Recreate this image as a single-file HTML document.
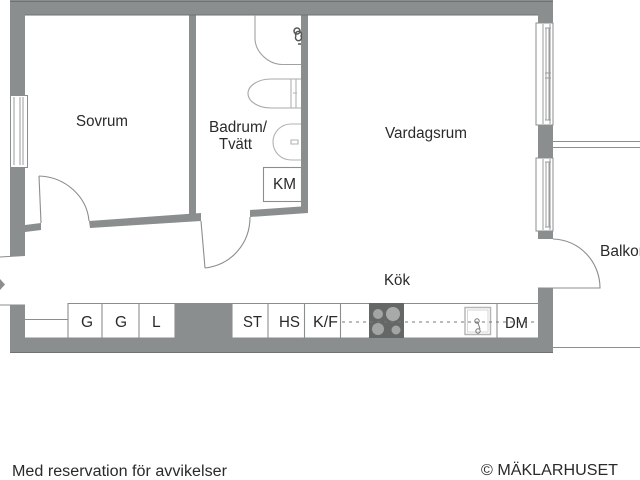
<!DOCTYPE html>
<html><head><meta charset="utf-8"><style>
html,body{margin:0;padding:0;background:#fff;width:640px;height:480px;overflow:hidden}
svg{display:block;filter:blur(.35px)}
text{font-family:"Liberation Sans",sans-serif;fill:#2a2a2a;font-size:15.5px}
</style></head><body>
<svg width="640" height="480" viewBox="0 0 640 480" xmlns="http://www.w3.org/2000/svg">
<rect width="640" height="480" fill="#fff"/>
<g fill="#8b8e8e">
<rect x="10" y="0" width="543" height="15"/>
<rect x="10" y="0" width="15" height="95"/>
<rect x="10" y="167" width="15" height="89"/>
<rect x="10" y="305" width="15" height="48"/>
<rect x="10" y="338" width="543" height="15"/>
<rect x="538" y="0" width="15" height="23"/>
<rect x="538" y="125" width="15" height="33"/>
<rect x="538" y="231" width="15" height="8"/>
<rect x="538" y="288" width="15" height="65"/>
<rect x="189" y="15" width="7" height="200"/>
<rect x="301" y="15" width="7" height="198"/>
<rect x="175" y="303" width="57" height="35"/>
<polygon points="25,225 41,223 41,230 25,232"/>
<polygon points="89,221 201,213 201,221 90,228"/>
<polygon points="250,210 308,206 308,213 250,217"/>
</g>
<path d="M10 1.500H553M25 15H538M10 352.500H553" stroke="#6f7272" stroke-width="1" fill="none"/>
<!-- windows -->
<g fill="#fff" stroke="#8b8e8e" stroke-width="1">
<rect x="10.500" y="95.500" width="17" height="72"/>
<rect x="536" y="23" width="17" height="102"/>
<rect x="536" y="158" width="17" height="73"/>
</g>
<g fill="none" stroke="#9a9c9c" stroke-width="1">
<path d="M14 97V165M20 97V165M23 97V165"/>
<path d="M543 24V124M546 28V120M549 28V120M550 24V124M545 28H551M545 120H551M545 73H551M545 78H551"/>
<path d="M543 159V230M546 162V227M549 162V227M550 159V230M545 162H551M545 227H551"/>
</g>
<!-- doors -->
<g fill="none" stroke="#8b8e8e" stroke-width="1.100">
<path d="M39 176L41 223"/>
<path d="M39 176C66 177 87 197 89 221"/>
<path d="M201 221L205 268"/>
<path d="M205 268C231 265 250 244 250 217"/>
<path d="M553 239C580 240 600 262 600 288H538"/>
<path d="M0 257L25 255.500M0 305H25"/>
<path d="M553 141.500H640M553 147.500H640M553 347.500H640"/>
<!-- shower -->
<path d="M255 15V38C255 52 268 64 282 64.500H301" stroke="#a0a2a2"/>
<!-- toilet -->
<path d="M301 79H271A23 14.500 0 0 0 271 108H301" stroke="#a8aaaa"/>
<path d="M291 79V108M296 79V108" stroke="#b0b2b2"/>
<!-- basin -->
<path d="M301 124H291A18 18 0 0 0 291 160H301" stroke="#b0b2b2"/>
<path d="M291 140H298V144H291Z" stroke="#b0b2b2"/>
<!-- KM -->
<rect x="263.500" y="167.500" width="38" height="34"/>
<!-- kitchen -->
<path d="M68 303.500H538M25 319.500H68M68 303V338M102 303V338M139 303V338M175 303V338M232 303V338M268 303V338M304.500 303V338M340.500 303V338M497 303V338M25 338H538"/>
</g>
<path d="M294 31a3 3 0 1 1 6 0a3 3 0 1 1 -6 0M296 36a3 3 0 1 1 5 0a3 3 0 1 1 -5 0M298 44h3" fill="none" stroke="#555" stroke-width="1.500"/>
<path d="M293 93H297" stroke="#b0b2b2"/>
<!-- hob -->
<rect x="369" y="303" width="35" height="35" fill="#656767"/>
<circle cx="378" cy="314" r="5" fill="#a3a5a3"/>
<circle cx="393" cy="314" r="7" fill="#a8aaa8"/>
<circle cx="378" cy="329" r="6" fill="#a3a5a3"/>
<circle cx="396" cy="330" r="4.500" fill="#a3a5a3"/>
<!-- sink -->
<rect x="465" y="307.500" width="25.500" height="27" fill="#fff" stroke="#b5b7b7" stroke-width="1.500"/>
<rect x="467.500" y="310" width="20.500" height="22" fill="none" stroke="#d5d6d6"/>
<circle cx="477" cy="321" r="2.200" fill="none" stroke="#777"/>
<circle cx="478" cy="331" r="2.200" fill="none" stroke="#777"/>
<path d="M478 323L480 329" stroke="#777" fill="none"/>
<path d="M342 322H538" stroke="#777" stroke-dasharray="3 4" fill="none"/>
<polygon points="0,279 5,284.500 0,290" fill="#8b8e8e"/>
<text x="76" y="126" textLength="52" lengthAdjust="spacingAndGlyphs">Sovrum</text>
<text x="209" y="132" textLength="58" lengthAdjust="spacingAndGlyphs">Badrum/</text>
<text x="219" y="149" textLength="33" lengthAdjust="spacingAndGlyphs">Tvätt</text>
<text x="385" y="138" textLength="82" lengthAdjust="spacingAndGlyphs">Vardagsrum</text>
<text x="384" y="285" textLength="26" lengthAdjust="spacingAndGlyphs">Kök</text>
<text x="600" y="256">Balkong</text>
<text x="273" y="189" textLength="23" lengthAdjust="spacingAndGlyphs">KM</text>
<text x="81" y="327">G</text>
<text x="115" y="327">G</text>
<text x="152" y="327">L</text>
<text x="243" y="327" textLength="19" lengthAdjust="spacingAndGlyphs">ST</text>
<text x="279" y="327" textLength="21" lengthAdjust="spacingAndGlyphs">HS</text>
<text x="313" y="327" textLength="25" lengthAdjust="spacingAndGlyphs">K/F</text>
<text x="505" y="328" textLength="23" lengthAdjust="spacingAndGlyphs">DM</text>
<text x="12" y="476" textLength="215" lengthAdjust="spacingAndGlyphs">Med reservation för avvikelser</text>
<text x="481" y="475" textLength="137" lengthAdjust="spacingAndGlyphs">© MÄKLARHUSET</text>
</svg>
</body></html>
